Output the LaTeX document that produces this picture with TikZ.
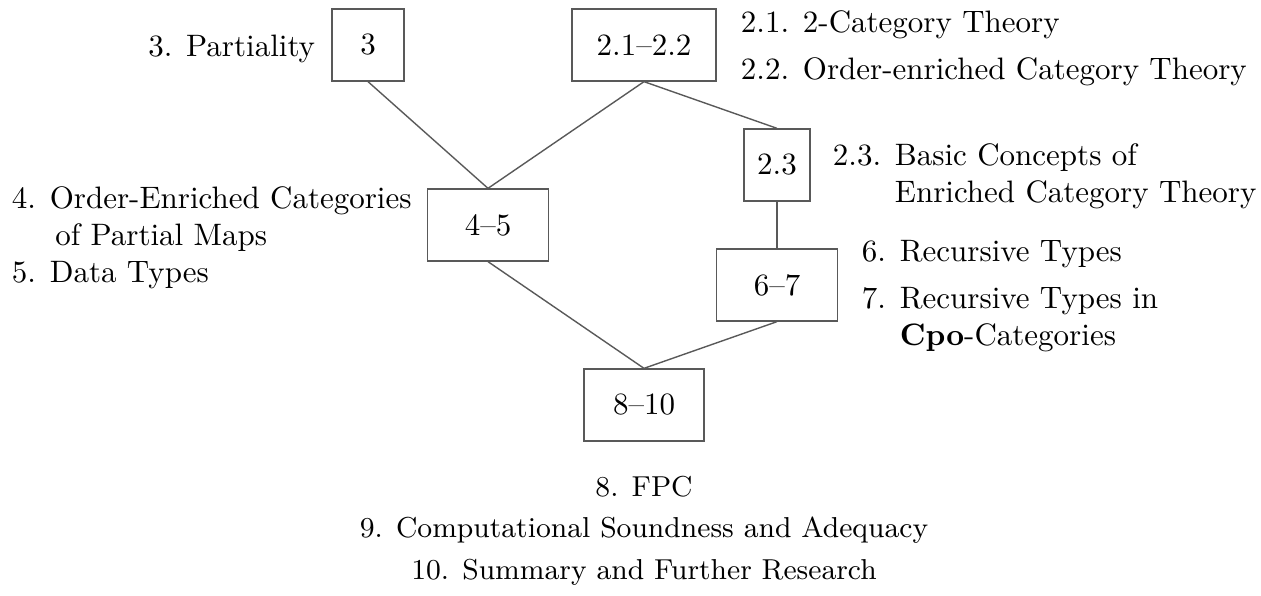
\documentclass[tikz,border=0pt]{standalone}
\usetikzlibrary{positioning}

\begin{document}
\begin{tikzpicture}[x=0.3226pt, y=-0.3226pt, every node/.style={font=\normalsize},
  sect/.style={draw=black!65, line width=0.45pt, minimum height=23.2pt, inner sep=0pt},
  link/.style={draw=black!65, line width=0.45pt}]

\useasboundingbox (0,0) rectangle (1261,596);

% Section boxes
\node[sect, minimum width=23.2pt] (b3) at (368,45) {3};
\node[sect, minimum width=46.5pt] (b21) at (644,45) {2.1--2.2};
\node[sect, minimum width=21.3pt] (b23) at (777,165) {2.3};
\node[sect, minimum width=39pt] (b45) at (488,225) {4--5};
\node[sect, minimum width=39pt] (b67) at (777,285) {6--7};
\node[sect, minimum width=38.7pt] (b810) at (644,405) {8--10};

% Dependencies between sections
\draw[link] (b3.south) -- (b45.north);
\draw[link] (b21.south) -- (b45.north);
\draw[link] (b21.south) -- (b23.north);
\draw[link] (b23.south) -- (b67.north);
\draw[link] (b45.south) -- (b810.north);
\draw[link] (b67.south) -- (b810.north);

% Section titles (base anchor = last line)
\node[anchor=base east] (t3) at (326,57) {3. Partiality};
\node[anchor=base west, align=left] (t21) at (730,80)
  {2.1. 2-Category Theory\\[3.2pt]
   2.2. Order-enriched Category Theory};
\node[anchor=base west, align=left] (t23) at (822,203)
  {2.3. Basic Concepts of\\
   \hphantom{2.3. }Enriched Category Theory};
\node[anchor=base west, align=left] (t45) at (1,283)
  {4. Order-Enriched Categories\\
   \hspace*{14pt}of Partial Maps\\
   5. Data Types};
\node[anchor=base west, align=left] (t67) at (851,346)
  {6. Recursive Types\\[3.2pt]
   7. Recursive Types in\\
   \hphantom{7. }\textbf{Cpo}-Categories};
\node[anchor=base, align=center, font=\fontsize{9.3}{11.5}\selectfont] (t810) at (644,579)
  {8. FPC\\[1.8pt]
   9. Computational Soundness and Adequacy\\[1.8pt]
   10. Summary and Further Research};

\end{tikzpicture}
\end{document}
